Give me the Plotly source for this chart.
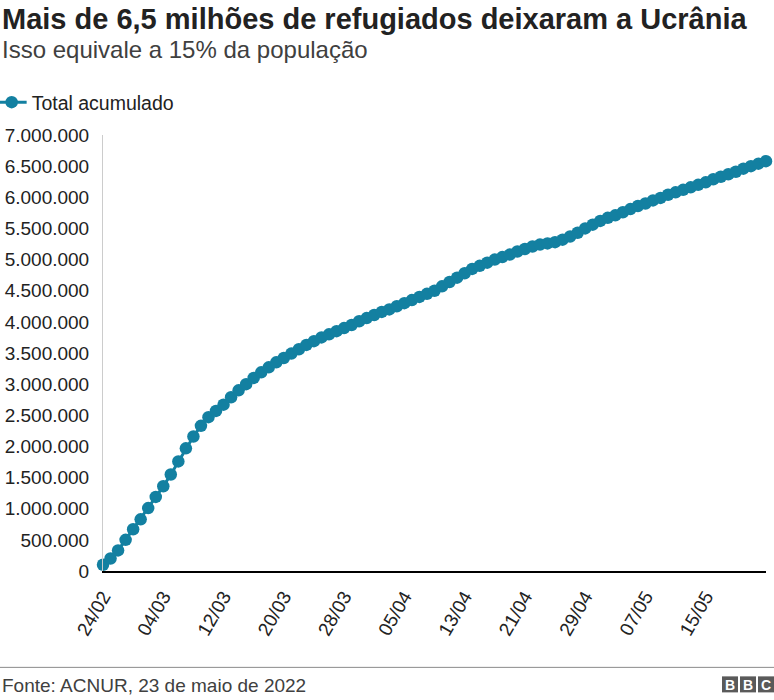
import plotly.graph_objects as go
import pandas as pd

# ---- data ----
start_date = "2022-02-24"
end_date = "2022-05-23"
refugees_millions = [
    0.10, 0.20, 0.33, 0.50, 0.67, 0.83, 1.01, 1.19, 1.36, 1.55,
    1.76, 1.97, 2.16, 2.33, 2.47, 2.57, 2.67, 2.79, 2.90, 3.00,
    3.10, 3.19, 3.27, 3.35, 3.42, 3.49, 3.56, 3.63, 3.69, 3.75,
    3.80, 3.85, 3.90, 3.95, 4.01, 4.06, 4.11, 4.16, 4.20, 4.25,
    4.30, 4.35, 4.40, 4.45, 4.50, 4.57, 4.64, 4.71, 4.78, 4.85,
    4.90, 4.95, 5.00, 5.04, 5.08, 5.13, 5.17, 5.21, 5.24, 5.26,
    5.28, 5.32, 5.37, 5.43, 5.50, 5.56, 5.62, 5.67, 5.71, 5.76,
    5.81, 5.86, 5.90, 5.95, 5.99, 6.04, 6.08, 6.12, 6.16, 6.20,
    6.24, 6.29, 6.33, 6.37, 6.41, 6.46, 6.50, 6.54, 6.58,
]
dates = pd.date_range(start_date, end_date, freq="D")
values = [round(v * 1_000_000) for v in refugees_millions]

tick_dates = pd.date_range(start_date, end_date, freq="8D")
tick_labels = [d.strftime("%d/%m") for d in tick_dates]
y_ticks = list(range(0, 7_000_001, 500_000))
y_tick_labels = [f"{v:,}".replace(",", ".") for v in y_ticks]

title_text = "Mais de 6,5 milhões de refugiados deixaram a Ucrânia"
subtitle_text = "Isso equivale a 15% da população"
series_name = "Total acumulado"
source_text = "Fonte: ACNUR, 23 de maio de 2022"

# ---- layout geometry ----
W, H = 774, 700
L, R, T, B = 103.3, 8, 135, 129.3
PW, PH = W - L - R, H - T - B


def px(xp):
    return (xp - L) / PW


def py(yp):
    return (H - B - yp) / PH


BLUE = "#1380A1"
FONT = "Liberation Sans, Arial, sans-serif"

fig = go.Figure()
fig.add_trace(go.Scatter(
    x=dates, y=values, name=series_name, mode="lines+markers",
    line=dict(color=BLUE, width=3),
    marker=dict(color=BLUE, size=12.5),
    cliponaxis=False, showlegend=True,
))

shapes = [
    dict(type="line", xref="paper", yref="paper", x0=px(0), x1=px(W),
         y0=py(667), y1=py(667), line=dict(color="#8a8a8a", width=1)),
]
annotations = [
    dict(text=f"<b>{title_text}</b>", x=px(0), y=py(19), xref="paper", yref="paper",
         xanchor="left", yanchor="middle", showarrow=False,
         font=dict(size=29, color="#222222", family=FONT)),
    dict(text=subtitle_text, x=px(0), y=py(50), xref="paper", yref="paper",
         xanchor="left", yanchor="middle", showarrow=False,
         font=dict(size=24, color="#404040", family=FONT)),
    dict(text=source_text, x=px(0), y=py(685), xref="paper", yref="paper",
         xanchor="left", yanchor="middle", showarrow=False,
         font=dict(size=19, color="#404040", family=FONT)),
]
# BBC logo blocks
for i, letter in enumerate(["B", "B", "C"]):
    x0 = 722 + i * 18
    shapes.append(dict(type="rect", xref="paper", yref="paper",
                       x0=px(x0), x1=px(x0 + 16), y0=py(692), y1=py(676),
                       fillcolor="#5a5a5a", line=dict(width=0)))
    annotations.append(dict(text=f"<b>{letter}</b>", x=px(x0 + 8), y=py(684.5),
                            xref="paper", yref="paper", xanchor="center",
                            yanchor="middle", showarrow=False,
                            font=dict(size=14, color="white", family=FONT)))

fig.update_layout(
    width=W, height=H,
    margin=dict(l=L, r=R, t=T, b=B, autoexpand=False),
    paper_bgcolor="white", plot_bgcolor="white",
    font=dict(family=FONT, size=19, color="#222222"),
    showlegend=True,
    legend=dict(orientation="h", x=px(-8), y=py(83), xanchor="left", yanchor="top",
                font=dict(size=19.5, color="#222222"), bgcolor="rgba(0,0,0,0)",
                itemwidth=30),
    xaxis=dict(
        type="date", range=[dates[0], dates[-1]],
        tickvals=list(tick_dates), ticktext=tick_labels, tickangle=-60,
        showgrid=False, zeroline=False, showline=True, linecolor="#000000",
        linewidth=2, ticks="", ticklabelstandoff=5,
        tickfont=dict(size=19, color="#222222"),
    ),
    yaxis=dict(
        range=[0, 7_000_000], tickvals=y_ticks, ticktext=y_tick_labels,
        showgrid=False, zeroline=False, showline=True, linecolor="#cccccc",
        linewidth=1, ticks="", ticklabelstandoff=9,
        tickfont=dict(size=19, color="#222222"),
    ),
    shapes=shapes, annotations=annotations,
)

fig.write_html(
    "out.html",
    config={"displayModeBar": False},
    post_script="document.body.style.margin='0';document.body.style.padding='0';",
)
